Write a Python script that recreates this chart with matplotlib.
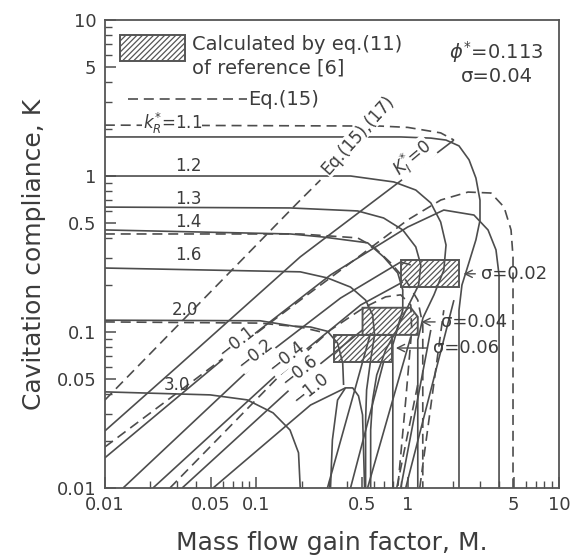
import matplotlib
matplotlib.use('Agg')
import matplotlib.pyplot as plt
from matplotlib.patches import Polygon, Rectangle

# ------------------------------------------------------------------
#   Values
#   M - mass flow gain factor, K - cavitation compliance
# ------------------------------------------------------------------

# k_R* contours (solid)
kr11_m = [0.01, 0.2, 0.9, 1.42, 1.79, 2.18, 2.54, 2.82, 3.0, 3.0, 2.82, 2.54, 2.28, 2.18, 2.18]
kr11_k = [1.78, 1.78, 1.78, 1.75, 1.70, 1.56, 1.27, 0.97, 0.70, 0.52, 0.39, 0.28, 0.20, 0.138, 0.01]
kr12_m = [0.01, 0.42, 0.81, 1.13, 1.42, 1.65, 1.79, 1.73, 1.49, 1.26, 1.165, 1.165]
kr12_k = [1.0, 1.0, 0.916, 0.813, 0.672, 0.507, 0.361, 0.249, 0.173, 0.123, 0.089, 0.01]
kr13_m = [0.01, 0.168, 0.467, 0.693, 0.927, 1.13, 1.22, 1.18, 1.015, 0.871, 0.797, 0.797, 0.797]
kr13_k = [0.632, 0.624, 0.597, 0.538, 0.451, 0.351, 0.269, 0.200, 0.149, 0.111, 0.0827, 0.057, 0.01]
kr14_m = [0.01, 0.168, 0.278, 0.543, 0.693, 0.859, 0.927, 0.927, 0.846, 0.715, 0.624, 0.586, 0.569, 0.569]
kr14_k = [0.451, 0.425, 0.406, 0.373, 0.303, 0.239, 0.186, 0.138, 0.103, 0.0767, 0.053, 0.0366, 0.0235, 0.01]
kr16_m = [0.01, 0.195, 0.295, 0.419, 0.527, 0.586, 0.604, 0.569, 0.535, 0.527, 0.527]
kr16_k = [0.257, 0.243, 0.222, 0.194, 0.160, 0.129, 0.0958, 0.0662, 0.0425, 0.0273, 0.01]
kr20_m = [0.01, 0.106, 0.176, 0.228, 0.295, 0.344, 0.372, 0.377]
kr20_k = [0.119, 0.118, 0.109, 0.1076, 0.101, 0.0849, 0.0632, 0.0457]
kr30_m = [0.01, 0.0496, 0.087, 0.129, 0.167, 0.190, 0.195]
kr30_k = [0.0413, 0.0395, 0.0367, 0.0303, 0.0235, 0.0168, 0.01]
hump_m = [0.309, 0.318, 0.344, 0.388, 0.433, 0.473, 0.503, 0.519]
hump_k = [0.01, 0.0203, 0.0366, 0.0438, 0.0438, 0.0389, 0.0294, 0.01]

# k_R* contours by Eq.(15) (dashed)
kr11_eq_m = [0.01, 0.66, 1.0, 1.65, 2.02]
kr11_eq_k = [2.12, 2.09, 2.05, 1.89, 1.70]
kr14_eq_m = [0.01, 0.195, 0.467, 0.596, 0.772, 0.970, 1.165, 1.257, 1.257]
kr14_eq_k = [0.425, 0.425, 0.401, 0.351, 0.277, 0.215, 0.160, 0.111, 0.01]
kr20_eq_m = [0.01, 0.106, 0.195, 0.286]
kr20_eq_k = [0.116, 0.114, 0.1076, 0.0986]

# K_I* contours (solid)
ki00_m = [0.01, 0.030, 0.195, 0.859, 2.018]
ki00_k = [0.0232, 0.0597, 0.303, 0.901, 1.70]
ki01_m = [0.01, 0.0784, 0.309, 1.0, 1.73, 2.737, 3.39, 3.826, 4.008, 4.008]
ki01_k = [0.0156, 0.0827, 0.232, 0.471, 0.605, 0.562, 0.451, 0.336, 0.232, 0.01]
ki02_m = [0.0132, 0.1016, 0.360, 0.899, 1.047]
ki02_k = [0.01, 0.0643, 0.165, 0.281, 0.269]
ki04_m = [0.0208, 0.160, 0.489, 0.927]
ki04_k = [0.01, 0.0614, 0.149, 0.209]
ki06_m = [0.0324, 0.195, 0.503]
ki06_k = [0.01, 0.0492, 0.103]
ki10_m = [0.0519, 0.228, 0.388]
ki10_k = [0.01, 0.034, 0.0438]
# steep branches in the lower right
ki_a_m = [0.970, 2.018]
ki_a_k = [0.01, 0.160]
ki_b_m = [0.543, 1.047]
ki_b_k = [0.01, 0.093]
ki_c_m = [0.295, 0.569]
ki_c_k = [0.01, 0.0986]
ki_d_m = [0.419, 0.693]
ki_d_k = [0.01, 0.0643]
ki_e_m = [0.899, 1.42]
ki_e_k = [0.01, 0.103]

# K_I* contours by Eq.(15),(17) (dashed)
eq_a_m = [0.01, 0.187, 0.265]
eq_a_k = [0.0366, 0.672, 0.942]
eq_b_m = [0.01, 0.0406, 0.195, 0.512, 1.0, 1.654, 2.50, 3.545, 4.326, 4.810, 4.957, 4.957]
eq_b_k = [0.0183, 0.0507, 0.160, 0.321, 0.523, 0.702, 0.789, 0.778, 0.632, 0.451, 0.303, 0.01]
eq_c_m = [0.0269, 0.144, 0.309, 0.512, 0.715, 0.899, 1.047, 1.062, 0.970, 0.859]
eq_c_k = [0.01, 0.053, 0.103, 0.143, 0.168, 0.173, 0.149, 0.103, 0.0366, 0.01]
eq_d_m = [1.20, 1.73]
eq_d_k = [0.01, 0.138]
eq_e_m = [0.846, 1.18]
eq_e_k = [0.01, 0.049]

# Regions calculated by eq.(11) of reference [6]
box02_m = [0.90, 2.18, 2.18, 0.90]
box02_k = [0.194, 0.194, 0.29, 0.29]
box04_m = [0.503, 1.165, 1.165, 1.047, 0.503]
box04_k = [0.0958, 0.0958, 0.125, 0.143, 0.143]
box06_m = [0.324, 0.790, 0.790, 0.324]
box06_k = [0.0643, 0.0643, 0.0958, 0.0958]

x_ticks = [0.01, 0.05, 0.1, 0.5, 1, 5, 10]
x_tick_labels = ['0.01', '0.05', '0.1', '0.5', '1', '5', '10']
y_ticks = [0.01, 0.05, 0.1, 0.5, 1, 5, 10]
y_tick_labels = ['0.01', '0.05', '0.1', '0.5', '1', '5', '10']

# ------------------------------------------------------------------
line_color = '#4d4d4d'
text_color = '#3c3c3c'
dash = (0, (6, 3.5))

plt.rcParams['font.family'] = 'DejaVu Sans'
plt.rcParams['hatch.linewidth'] = 0.9

fig = plt.figure(figsize=(5.7, 5.57), dpi=100)
ax = fig.add_axes([0.184, 0.124, 0.797, 0.840])
ax.set_xscale('log')
ax.set_yscale('log')
ax.set_xlim(0.01, 10)
ax.set_ylim(0.01, 10)

solid_curves = [(kr11_m, kr11_k), (kr12_m, kr12_k), (kr13_m, kr13_k), (kr14_m, kr14_k),
                (kr16_m, kr16_k), (kr20_m, kr20_k), (kr30_m, kr30_k), (hump_m, hump_k),
                (ki00_m, ki00_k), (ki01_m, ki01_k), (ki02_m, ki02_k), (ki04_m, ki04_k),
                (ki06_m, ki06_k), (ki10_m, ki10_k), (ki_a_m, ki_a_k), (ki_b_m, ki_b_k),
                (ki_c_m, ki_c_k), (ki_d_m, ki_d_k), (ki_e_m, ki_e_k)]
dashed_curves = [(kr11_eq_m, kr11_eq_k), (kr14_eq_m, kr14_eq_k), (kr20_eq_m, kr20_eq_k),
                 (eq_a_m, eq_a_k), (eq_b_m, eq_b_k), (eq_c_m, eq_c_k), (eq_d_m, eq_d_k),
                 (eq_e_m, eq_e_k)]

for m, k in solid_curves:
    ax.plot(m, k, color=line_color, lw=1.2, solid_capstyle='butt')
for m, k in dashed_curves:
    ax.plot(m, k, color=line_color, lw=1.2, ls=dash)

# Hatched boxes
for m, k in [(box02_m, box02_k), (box04_m, box04_k), (box06_m, box06_k)]:
    ax.add_patch(Polygon(list(zip(m, k)), closed=True, facecolor='none', edgecolor='#555555',
                         hatch='//////', lw=1.4, zorder=3))

# Labels of k_R* curves
lab = dict(color=text_color, fontsize=12, ha='center', va='center')
ax.text(0.0278, 2.17, r'$k_R^{*}$=1.1', bbox=dict(fc='white', ec='none', pad=0.3), **lab)
ax.text(0.0355, 1.16, '1.2', **lab)
ax.text(0.0355, 0.713, '1.3', **lab)
ax.text(0.0355, 0.507, '1.4', **lab)
ax.text(0.0355, 0.312, '1.6', **lab)
ax.text(0.0339, 0.138, '2.0', **lab)
ax.text(0.030, 0.0457, '3.0', **lab)

# Labels of K_I* lines
rot = dict(color=text_color, fontsize=12, ha='center', va='center', rotation=38,
           bbox=dict(fc='white', ec='none', pad=0.1))
ax.text(0.0738, 0.085, '$-$0.1', **rot)
ax.text(0.0985, 0.0713, '$-$0.2', **rot)
ax.text(0.160, 0.068, '$-$0.4', **rot)
ax.text(0.195, 0.0555, '$-$0.6', **rot)
ax.text(0.228, 0.0425, '$-$1.0', **rot)
ax.text(1.08, 1.30, r'$K_I^{*}$=0', color=text_color, fontsize=12, ha='center', va='center',
        rotation=40, bbox=dict(fc='white', ec='none', pad=0.1))
ax.text(0.467, 1.83, 'Eq.(15),(17)', color=text_color, fontsize=12, ha='center', va='center',
        rotation=48, bbox=dict(fc='white', ec='none', pad=0.1))

# sigma markers
arr = dict(arrowstyle='->', color=line_color, lw=1.0)
ax.annotate('σ=0.02', xy=(2.24, 0.236), xytext=(3.04, 0.236), color=text_color, fontsize=13,
            va='center', ha='left', arrowprops=arr)
ax.annotate('σ=0.04', xy=(1.18, 0.116), xytext=(1.65, 0.116), color=text_color, fontsize=13,
            va='center', ha='left', arrowprops=arr)
ax.annotate('σ=0.06', xy=(0.80, 0.0789), xytext=(1.47, 0.0789), color=text_color, fontsize=13,
            va='center', ha='left', arrowprops=arr)

# Legend drawn by hand
ax.add_patch(Rectangle((0.033, 0.912), 0.143, 0.056, transform=ax.transAxes, facecolor='none',
                       edgecolor='#555555', hatch='//////', lw=1.4))
ax.text(0.192, 0.947, 'Calculated by eq.(11)', transform=ax.transAxes, color=text_color,
        fontsize=14, va='center', ha='left')
ax.text(0.192, 0.897, 'of reference [6]', transform=ax.transAxes, color=text_color,
        fontsize=14, va='center', ha='left')
ax.plot([0.051, 0.313], [0.831, 0.831], transform=ax.transAxes, color=line_color, lw=1.2, ls=dash)
ax.text(0.315, 0.831, 'Eq.(15)', transform=ax.transAxes, color=text_color, fontsize=14,
        va='center', ha='left')
ax.text(0.861, 0.932, r'$\phi^{*}$=0.113', transform=ax.transAxes, color=text_color, fontsize=14,
        va='center', ha='center')
ax.text(0.863, 0.880, 'σ=0.04', transform=ax.transAxes, color=text_color, fontsize=14,
        va='center', ha='center')

# Axes, ticks
minor = [s * d for d in (0.01, 0.1, 1) for s in (2, 3, 4, 6, 7, 8, 9)]
ax.set_xticks(x_ticks, labels=x_tick_labels)
ax.set_yticks(y_ticks, labels=y_tick_labels)
ax.set_xticks(minor, minor=True)
ax.set_yticks(minor, minor=True)
ax.xaxis.set_minor_formatter(plt.NullFormatter())
ax.yaxis.set_minor_formatter(plt.NullFormatter())
ax.tick_params(which='both', direction='in', top=False, right=False, color=line_color,
               labelcolor=text_color, labelsize=13)
ax.tick_params(which='major', length=8, width=1.1, pad=6)
ax.tick_params(which='minor', length=5, width=1.0)
for sp in ax.spines.values():
    sp.set_color('#555555')
    sp.set_linewidth(1.3)

ax.set_xlabel('Mass flow gain factor, M.', fontsize=18, color=text_color, labelpad=12)
ax.set_ylabel('Cavitation compliance, K', fontsize=18, color=text_color, labelpad=8)

fig.savefig('out.png', dpi=100)
